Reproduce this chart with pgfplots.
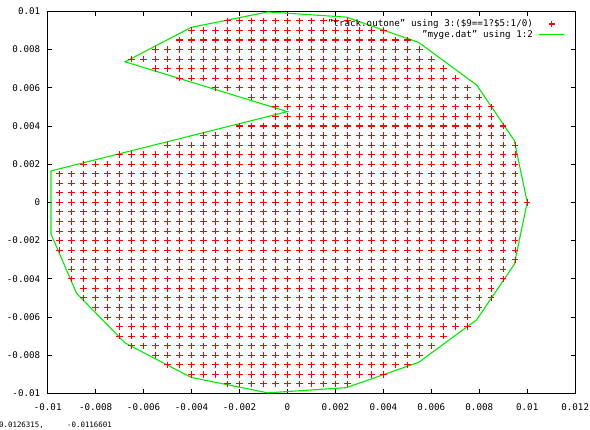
\documentclass[border=0pt]{standalone}
\usepackage{fontspec}
\setmainfont{DejaVu Sans Mono}
\usepackage{pgfplots}
\pgfplotsset{compat=1.18}
\definecolor{gpred}{RGB}{255,0,0}
\definecolor{gpgreen}{RGB}{0,235,0}
\begin{document}
\begin{tikzpicture}
\path[use as bounding box] (0pt,0pt) rectangle (590pt,430pt);
\begin{axis}[
  at={(47.7pt,36.5pt)}, anchor=south west,
  scale only axis, width=527.5pt, height=382.2pt,
  xmin=-0.01, xmax=0.012, ymin=-0.01, ymax=0.01,
  xtick={-0.01,-0.008,-0.006,-0.004,-0.002,0,0.002,0.004,0.006,0.008,0.01,0.012},
  xticklabels={-0.01,-0.008,-0.006,-0.004,-0.002,0,0.002,0.004,0.006,0.008,0.01,0.012},
  ytick={-0.01,-0.008,-0.006,-0.004,-0.002,0,0.002,0.004,0.006,0.008,0.01},
  yticklabels={-0.01,-0.008,-0.006,-0.004,-0.002,0,0.002,0.004,0.006,0.008,0.01},
  scaled ticks=false,
  tick align=inside, xtick pos=both, ytick pos=both,
  major tick length=4.5pt,
  tick style={black, line width=0.8pt},
  axis line style={black, line width=1.4pt},
  ticklabel style={font=\fontsize{9.2}{11}\selectfont},
  xticklabel style={yshift=-6.5pt},
  yticklabel style={xshift=-4pt},
  legend style={draw=none, fill=none, at={(rel axis cs:1,1)}, xshift=-7pt, yshift=-6pt, anchor=north east,
    font=\fontsize{9.2}{11}\selectfont, nodes={inner sep=0pt, text height=7pt, text depth=2pt}, row sep=1.6pt, column sep=6pt},
  legend cell align=right,
  legend plot pos=right,
  legend image code/.code={\draw[mark repeat=2,mark phase=2,#1] plot coordinates {(0pt,0pt) (12.5pt,0pt) (25pt,0pt)};},
]
\addplot[only marks, mark=+, mark size=3.2pt, gpred, mark options={line width=1.1pt}] coordinates {
(-0.0025,0.0095) (-0.002,0.0095) (-0.0015,0.0095) (-0.001,0.0095) (-0.0005,0.0095) (0,0.0095) (0.0005,0.0095) (0.001,0.0095) (0.0015,0.0095) (0.002,0.0095) (0.0025,0.0095)
(-0.004,0.009) (-0.0035,0.009) (-0.003,0.009) (-0.0025,0.009) (-0.002,0.009) (-0.0015,0.009) (-0.001,0.009) (-0.0005,0.009) (0,0.009) (0.0005,0.009) (0.001,0.009) (0.0015,0.009) (0.002,0.009) (0.0025,0.009) (0.003,0.009) (0.0035,0.009) (0.004,0.009)
(-0.0045,0.0085) (-0.004,0.0085) (-0.0035,0.0085) (-0.003,0.0085) (-0.0025,0.0085) (-0.002,0.0085) (-0.0015,0.0085) (-0.001,0.0085) (-0.0005,0.0085) (0,0.0085) (0.0005,0.0085) (0.001,0.0085) (0.0015,0.0085) (0.002,0.0085) (0.0025,0.0085) (0.003,0.0085) (0.0035,0.0085) (0.004,0.0085) (0.0045,0.0085) (0.005,0.0085)
(-0.0055,0.008) (-0.005,0.008) (-0.0045,0.008) (-0.004,0.008) (-0.0035,0.008) (-0.003,0.008) (-0.0025,0.008) (-0.002,0.008) (-0.0015,0.008) (-0.001,0.008) (-0.0005,0.008) (0,0.008) (0.0005,0.008) (0.001,0.008) (0.0015,0.008) (0.002,0.008) (0.0025,0.008) (0.003,0.008) (0.0035,0.008) (0.004,0.008) (0.0045,0.008) (0.005,0.008) (0.0055,0.008)
(-0.0065,0.0075) (-0.006,0.0075) (-0.0055,0.0075) (-0.005,0.0075) (-0.0045,0.0075) (-0.004,0.0075) (-0.0035,0.0075) (-0.003,0.0075) (-0.0025,0.0075) (-0.002,0.0075) (-0.0015,0.0075) (-0.001,0.0075) (-0.0005,0.0075) (0,0.0075) (0.0005,0.0075) (0.001,0.0075) (0.0015,0.0075) (0.002,0.0075) (0.0025,0.0075) (0.003,0.0075) (0.0035,0.0075) (0.004,0.0075) (0.0045,0.0075) (0.005,0.0075) (0.0055,0.0075) (0.006,0.0075)
(-0.0055,0.007) (-0.005,0.007) (-0.0045,0.007) (-0.004,0.007) (-0.0035,0.007) (-0.003,0.007) (-0.0025,0.007) (-0.002,0.007) (-0.0015,0.007) (-0.001,0.007) (-0.0005,0.007) (0,0.007) (0.0005,0.007) (0.001,0.007) (0.0015,0.007) (0.002,0.007) (0.0025,0.007) (0.003,0.007) (0.0035,0.007) (0.004,0.007) (0.0045,0.007) (0.005,0.007) (0.0055,0.007) (0.006,0.007) (0.0065,0.007)
(-0.0045,0.0065) (-0.004,0.0065) (-0.0035,0.0065) (-0.003,0.0065) (-0.0025,0.0065) (-0.002,0.0065) (-0.0015,0.0065) (-0.001,0.0065) (-0.0005,0.0065) (0,0.0065) (0.0005,0.0065) (0.001,0.0065) (0.0015,0.0065) (0.002,0.0065) (0.0025,0.0065) (0.003,0.0065) (0.0035,0.0065) (0.004,0.0065) (0.0045,0.0065) (0.005,0.0065) (0.0055,0.0065) (0.006,0.0065) (0.0065,0.0065) (0.007,0.0065)
(-0.003,0.006) (-0.0025,0.006) (-0.002,0.006) (-0.0015,0.006) (-0.001,0.006) (-0.0005,0.006) (0,0.006) (0.0005,0.006) (0.001,0.006) (0.0015,0.006) (0.002,0.006) (0.0025,0.006) (0.003,0.006) (0.0035,0.006) (0.004,0.006) (0.0045,0.006) (0.005,0.006) (0.0055,0.006) (0.006,0.006) (0.0065,0.006) (0.007,0.006) (0.0075,0.006)
(-0.0015,0.0055) (-0.001,0.0055) (-0.0005,0.0055) (0,0.0055) (0.0005,0.0055) (0.001,0.0055) (0.0015,0.0055) (0.002,0.0055) (0.0025,0.0055) (0.003,0.0055) (0.0035,0.0055) (0.004,0.0055) (0.0045,0.0055) (0.005,0.0055) (0.0055,0.0055) (0.006,0.0055) (0.0065,0.0055) (0.007,0.0055) (0.0075,0.0055) (0.008,0.0055)
(-0.0005,0.005) (0,0.005) (0.0005,0.005) (0.001,0.005) (0.0015,0.005) (0.002,0.005) (0.0025,0.005) (0.003,0.005) (0.0035,0.005) (0.004,0.005) (0.0045,0.005) (0.005,0.005) (0.0055,0.005) (0.006,0.005) (0.0065,0.005) (0.007,0.005) (0.0075,0.005) (0.008,0.005) (0.0085,0.005)
(-0.0005,0.0045) (0,0.0045) (0.0005,0.0045) (0.001,0.0045) (0.0015,0.0045) (0.002,0.0045) (0.0025,0.0045) (0.003,0.0045) (0.0035,0.0045) (0.004,0.0045) (0.0045,0.0045) (0.005,0.0045) (0.0055,0.0045) (0.006,0.0045) (0.0065,0.0045) (0.007,0.0045) (0.0075,0.0045) (0.008,0.0045) (0.0085,0.0045)
(-0.002,0.004) (-0.0015,0.004) (-0.001,0.004) (-0.0005,0.004) (0,0.004) (0.0005,0.004) (0.001,0.004) (0.0015,0.004) (0.002,0.004) (0.0025,0.004) (0.003,0.004) (0.0035,0.004) (0.004,0.004) (0.0045,0.004) (0.005,0.004) (0.0055,0.004) (0.006,0.004) (0.0065,0.004) (0.007,0.004) (0.0075,0.004) (0.008,0.004) (0.0085,0.004) (0.009,0.004)
(-0.0035,0.0035) (-0.003,0.0035) (-0.0025,0.0035) (-0.002,0.0035) (-0.0015,0.0035) (-0.001,0.0035) (-0.0005,0.0035) (0,0.0035) (0.0005,0.0035) (0.001,0.0035) (0.0015,0.0035) (0.002,0.0035) (0.0025,0.0035) (0.003,0.0035) (0.0035,0.0035) (0.004,0.0035) (0.0045,0.0035) (0.005,0.0035) (0.0055,0.0035) (0.006,0.0035) (0.0065,0.0035) (0.007,0.0035) (0.0075,0.0035) (0.008,0.0035) (0.0085,0.0035) (0.009,0.0035)
(-0.005,0.003) (-0.0045,0.003) (-0.004,0.003) (-0.0035,0.003) (-0.003,0.003) (-0.0025,0.003) (-0.002,0.003) (-0.0015,0.003) (-0.001,0.003) (-0.0005,0.003) (0,0.003) (0.0005,0.003) (0.001,0.003) (0.0015,0.003) (0.002,0.003) (0.0025,0.003) (0.003,0.003) (0.0035,0.003) (0.004,0.003) (0.0045,0.003) (0.005,0.003) (0.0055,0.003) (0.006,0.003) (0.0065,0.003) (0.007,0.003) (0.0075,0.003) (0.008,0.003) (0.0085,0.003) (0.009,0.003) (0.0095,0.003)
(-0.007,0.0025) (-0.0065,0.0025) (-0.006,0.0025) (-0.0055,0.0025) (-0.005,0.0025) (-0.0045,0.0025) (-0.004,0.0025) (-0.0035,0.0025) (-0.003,0.0025) (-0.0025,0.0025) (-0.002,0.0025) (-0.0015,0.0025) (-0.001,0.0025) (-0.0005,0.0025) (0,0.0025) (0.0005,0.0025) (0.001,0.0025) (0.0015,0.0025) (0.002,0.0025) (0.0025,0.0025) (0.003,0.0025) (0.0035,0.0025) (0.004,0.0025) (0.0045,0.0025) (0.005,0.0025) (0.0055,0.0025) (0.006,0.0025) (0.0065,0.0025) (0.007,0.0025) (0.0075,0.0025) (0.008,0.0025) (0.0085,0.0025) (0.009,0.0025) (0.0095,0.0025)
(-0.0085,0.002) (-0.008,0.002) (-0.0075,0.002) (-0.007,0.002) (-0.0065,0.002) (-0.006,0.002) (-0.0055,0.002) (-0.005,0.002) (-0.0045,0.002) (-0.004,0.002) (-0.0035,0.002) (-0.003,0.002) (-0.0025,0.002) (-0.002,0.002) (-0.0015,0.002) (-0.001,0.002) (-0.0005,0.002) (0,0.002) (0.0005,0.002) (0.001,0.002) (0.0015,0.002) (0.002,0.002) (0.0025,0.002) (0.003,0.002) (0.0035,0.002) (0.004,0.002) (0.0045,0.002) (0.005,0.002) (0.0055,0.002) (0.006,0.002) (0.0065,0.002) (0.007,0.002) (0.0075,0.002) (0.008,0.002) (0.0085,0.002) (0.009,0.002) (0.0095,0.002)
(-0.0095,0.0015) (-0.009,0.0015) (-0.0085,0.0015) (-0.008,0.0015) (-0.0075,0.0015) (-0.007,0.0015) (-0.0065,0.0015) (-0.006,0.0015) (-0.0055,0.0015) (-0.005,0.0015) (-0.0045,0.0015) (-0.004,0.0015) (-0.0035,0.0015) (-0.003,0.0015) (-0.0025,0.0015) (-0.002,0.0015) (-0.0015,0.0015) (-0.001,0.0015) (-0.0005,0.0015) (0,0.0015) (0.0005,0.0015) (0.001,0.0015) (0.0015,0.0015) (0.002,0.0015) (0.0025,0.0015) (0.003,0.0015) (0.0035,0.0015) (0.004,0.0015) (0.0045,0.0015) (0.005,0.0015) (0.0055,0.0015) (0.006,0.0015) (0.0065,0.0015) (0.007,0.0015) (0.0075,0.0015) (0.008,0.0015) (0.0085,0.0015) (0.009,0.0015) (0.0095,0.0015)
(-0.0095,0.001) (-0.009,0.001) (-0.0085,0.001) (-0.008,0.001) (-0.0075,0.001) (-0.007,0.001) (-0.0065,0.001) (-0.006,0.001) (-0.0055,0.001) (-0.005,0.001) (-0.0045,0.001) (-0.004,0.001) (-0.0035,0.001) (-0.003,0.001) (-0.0025,0.001) (-0.002,0.001) (-0.0015,0.001) (-0.001,0.001) (-0.0005,0.001) (0,0.001) (0.0005,0.001) (0.001,0.001) (0.0015,0.001) (0.002,0.001) (0.0025,0.001) (0.003,0.001) (0.0035,0.001) (0.004,0.001) (0.0045,0.001) (0.005,0.001) (0.0055,0.001) (0.006,0.001) (0.0065,0.001) (0.007,0.001) (0.0075,0.001) (0.008,0.001) (0.0085,0.001) (0.009,0.001) (0.0095,0.001)
(-0.0095,0.0005) (-0.009,0.0005) (-0.0085,0.0005) (-0.008,0.0005) (-0.0075,0.0005) (-0.007,0.0005) (-0.0065,0.0005) (-0.006,0.0005) (-0.0055,0.0005) (-0.005,0.0005) (-0.0045,0.0005) (-0.004,0.0005) (-0.0035,0.0005) (-0.003,0.0005) (-0.0025,0.0005) (-0.002,0.0005) (-0.0015,0.0005) (-0.001,0.0005) (-0.0005,0.0005) (0,0.0005) (0.0005,0.0005) (0.001,0.0005) (0.0015,0.0005) (0.002,0.0005) (0.0025,0.0005) (0.003,0.0005) (0.0035,0.0005) (0.004,0.0005) (0.0045,0.0005) (0.005,0.0005) (0.0055,0.0005) (0.006,0.0005) (0.0065,0.0005) (0.007,0.0005) (0.0075,0.0005) (0.008,0.0005) (0.0085,0.0005) (0.009,0.0005) (0.0095,0.0005)
(-0.0095,0) (-0.009,0) (-0.0085,0) (-0.008,0) (-0.0075,0) (-0.007,0) (-0.0065,0) (-0.006,0) (-0.0055,0) (-0.005,0) (-0.0045,0) (-0.004,0) (-0.0035,0) (-0.003,0) (-0.0025,0) (-0.002,0) (-0.0015,0) (-0.001,0) (-0.0005,0) (0,0) (0.0005,0) (0.001,0) (0.0015,0) (0.002,0) (0.0025,0) (0.003,0) (0.0035,0) (0.004,0) (0.0045,0) (0.005,0) (0.0055,0) (0.006,0) (0.0065,0) (0.007,0) (0.0075,0) (0.008,0) (0.0085,0) (0.009,0) (0.0095,0) (0.01,0)
(-0.0095,-0.0005) (-0.009,-0.0005) (-0.0085,-0.0005) (-0.008,-0.0005) (-0.0075,-0.0005) (-0.007,-0.0005) (-0.0065,-0.0005) (-0.006,-0.0005) (-0.0055,-0.0005) (-0.005,-0.0005) (-0.0045,-0.0005) (-0.004,-0.0005) (-0.0035,-0.0005) (-0.003,-0.0005) (-0.0025,-0.0005) (-0.002,-0.0005) (-0.0015,-0.0005) (-0.001,-0.0005) (-0.0005,-0.0005) (0,-0.0005) (0.0005,-0.0005) (0.001,-0.0005) (0.0015,-0.0005) (0.002,-0.0005) (0.0025,-0.0005) (0.003,-0.0005) (0.0035,-0.0005) (0.004,-0.0005) (0.0045,-0.0005) (0.005,-0.0005) (0.0055,-0.0005) (0.006,-0.0005) (0.0065,-0.0005) (0.007,-0.0005) (0.0075,-0.0005) (0.008,-0.0005) (0.0085,-0.0005) (0.009,-0.0005) (0.0095,-0.0005)
(-0.0095,-0.001) (-0.009,-0.001) (-0.0085,-0.001) (-0.008,-0.001) (-0.0075,-0.001) (-0.007,-0.001) (-0.0065,-0.001) (-0.006,-0.001) (-0.0055,-0.001) (-0.005,-0.001) (-0.0045,-0.001) (-0.004,-0.001) (-0.0035,-0.001) (-0.003,-0.001) (-0.0025,-0.001) (-0.002,-0.001) (-0.0015,-0.001) (-0.001,-0.001) (-0.0005,-0.001) (0,-0.001) (0.0005,-0.001) (0.001,-0.001) (0.0015,-0.001) (0.002,-0.001) (0.0025,-0.001) (0.003,-0.001) (0.0035,-0.001) (0.004,-0.001) (0.0045,-0.001) (0.005,-0.001) (0.0055,-0.001) (0.006,-0.001) (0.0065,-0.001) (0.007,-0.001) (0.0075,-0.001) (0.008,-0.001) (0.0085,-0.001) (0.009,-0.001) (0.0095,-0.001)
(-0.0095,-0.0015) (-0.009,-0.0015) (-0.0085,-0.0015) (-0.008,-0.0015) (-0.0075,-0.0015) (-0.007,-0.0015) (-0.0065,-0.0015) (-0.006,-0.0015) (-0.0055,-0.0015) (-0.005,-0.0015) (-0.0045,-0.0015) (-0.004,-0.0015) (-0.0035,-0.0015) (-0.003,-0.0015) (-0.0025,-0.0015) (-0.002,-0.0015) (-0.0015,-0.0015) (-0.001,-0.0015) (-0.0005,-0.0015) (0,-0.0015) (0.0005,-0.0015) (0.001,-0.0015) (0.0015,-0.0015) (0.002,-0.0015) (0.0025,-0.0015) (0.003,-0.0015) (0.0035,-0.0015) (0.004,-0.0015) (0.0045,-0.0015) (0.005,-0.0015) (0.0055,-0.0015) (0.006,-0.0015) (0.0065,-0.0015) (0.007,-0.0015) (0.0075,-0.0015) (0.008,-0.0015) (0.0085,-0.0015) (0.009,-0.0015) (0.0095,-0.0015)
(-0.0095,-0.002) (-0.009,-0.002) (-0.0085,-0.002) (-0.008,-0.002) (-0.0075,-0.002) (-0.007,-0.002) (-0.0065,-0.002) (-0.006,-0.002) (-0.0055,-0.002) (-0.005,-0.002) (-0.0045,-0.002) (-0.004,-0.002) (-0.0035,-0.002) (-0.003,-0.002) (-0.0025,-0.002) (-0.002,-0.002) (-0.0015,-0.002) (-0.001,-0.002) (-0.0005,-0.002) (0,-0.002) (0.0005,-0.002) (0.001,-0.002) (0.0015,-0.002) (0.002,-0.002) (0.0025,-0.002) (0.003,-0.002) (0.0035,-0.002) (0.004,-0.002) (0.0045,-0.002) (0.005,-0.002) (0.0055,-0.002) (0.006,-0.002) (0.0065,-0.002) (0.007,-0.002) (0.0075,-0.002) (0.008,-0.002) (0.0085,-0.002) (0.009,-0.002) (0.0095,-0.002)
(-0.0095,-0.0025) (-0.009,-0.0025) (-0.0085,-0.0025) (-0.008,-0.0025) (-0.0075,-0.0025) (-0.007,-0.0025) (-0.0065,-0.0025) (-0.006,-0.0025) (-0.0055,-0.0025) (-0.005,-0.0025) (-0.0045,-0.0025) (-0.004,-0.0025) (-0.0035,-0.0025) (-0.003,-0.0025) (-0.0025,-0.0025) (-0.002,-0.0025) (-0.0015,-0.0025) (-0.001,-0.0025) (-0.0005,-0.0025) (0,-0.0025) (0.0005,-0.0025) (0.001,-0.0025) (0.0015,-0.0025) (0.002,-0.0025) (0.0025,-0.0025) (0.003,-0.0025) (0.0035,-0.0025) (0.004,-0.0025) (0.0045,-0.0025) (0.005,-0.0025) (0.0055,-0.0025) (0.006,-0.0025) (0.0065,-0.0025) (0.007,-0.0025) (0.0075,-0.0025) (0.008,-0.0025) (0.0085,-0.0025) (0.009,-0.0025) (0.0095,-0.0025)
(-0.009,-0.003) (-0.0085,-0.003) (-0.008,-0.003) (-0.0075,-0.003) (-0.007,-0.003) (-0.0065,-0.003) (-0.006,-0.003) (-0.0055,-0.003) (-0.005,-0.003) (-0.0045,-0.003) (-0.004,-0.003) (-0.0035,-0.003) (-0.003,-0.003) (-0.0025,-0.003) (-0.002,-0.003) (-0.0015,-0.003) (-0.001,-0.003) (-0.0005,-0.003) (0,-0.003) (0.0005,-0.003) (0.001,-0.003) (0.0015,-0.003) (0.002,-0.003) (0.0025,-0.003) (0.003,-0.003) (0.0035,-0.003) (0.004,-0.003) (0.0045,-0.003) (0.005,-0.003) (0.0055,-0.003) (0.006,-0.003) (0.0065,-0.003) (0.007,-0.003) (0.0075,-0.003) (0.008,-0.003) (0.0085,-0.003) (0.009,-0.003) (0.0095,-0.003)
(-0.009,-0.0035) (-0.0085,-0.0035) (-0.008,-0.0035) (-0.0075,-0.0035) (-0.007,-0.0035) (-0.0065,-0.0035) (-0.006,-0.0035) (-0.0055,-0.0035) (-0.005,-0.0035) (-0.0045,-0.0035) (-0.004,-0.0035) (-0.0035,-0.0035) (-0.003,-0.0035) (-0.0025,-0.0035) (-0.002,-0.0035) (-0.0015,-0.0035) (-0.001,-0.0035) (-0.0005,-0.0035) (0,-0.0035) (0.0005,-0.0035) (0.001,-0.0035) (0.0015,-0.0035) (0.002,-0.0035) (0.0025,-0.0035) (0.003,-0.0035) (0.0035,-0.0035) (0.004,-0.0035) (0.0045,-0.0035) (0.005,-0.0035) (0.0055,-0.0035) (0.006,-0.0035) (0.0065,-0.0035) (0.007,-0.0035) (0.0075,-0.0035) (0.008,-0.0035) (0.0085,-0.0035) (0.009,-0.0035)
(-0.009,-0.004) (-0.0085,-0.004) (-0.008,-0.004) (-0.0075,-0.004) (-0.007,-0.004) (-0.0065,-0.004) (-0.006,-0.004) (-0.0055,-0.004) (-0.005,-0.004) (-0.0045,-0.004) (-0.004,-0.004) (-0.0035,-0.004) (-0.003,-0.004) (-0.0025,-0.004) (-0.002,-0.004) (-0.0015,-0.004) (-0.001,-0.004) (-0.0005,-0.004) (0,-0.004) (0.0005,-0.004) (0.001,-0.004) (0.0015,-0.004) (0.002,-0.004) (0.0025,-0.004) (0.003,-0.004) (0.0035,-0.004) (0.004,-0.004) (0.0045,-0.004) (0.005,-0.004) (0.0055,-0.004) (0.006,-0.004) (0.0065,-0.004) (0.007,-0.004) (0.0075,-0.004) (0.008,-0.004) (0.0085,-0.004) (0.009,-0.004)
(-0.0085,-0.0045) (-0.008,-0.0045) (-0.0075,-0.0045) (-0.007,-0.0045) (-0.0065,-0.0045) (-0.006,-0.0045) (-0.0055,-0.0045) (-0.005,-0.0045) (-0.0045,-0.0045) (-0.004,-0.0045) (-0.0035,-0.0045) (-0.003,-0.0045) (-0.0025,-0.0045) (-0.002,-0.0045) (-0.0015,-0.0045) (-0.001,-0.0045) (-0.0005,-0.0045) (0,-0.0045) (0.0005,-0.0045) (0.001,-0.0045) (0.0015,-0.0045) (0.002,-0.0045) (0.0025,-0.0045) (0.003,-0.0045) (0.0035,-0.0045) (0.004,-0.0045) (0.0045,-0.0045) (0.005,-0.0045) (0.0055,-0.0045) (0.006,-0.0045) (0.0065,-0.0045) (0.007,-0.0045) (0.0075,-0.0045) (0.008,-0.0045) (0.0085,-0.0045)
(-0.0085,-0.005) (-0.008,-0.005) (-0.0075,-0.005) (-0.007,-0.005) (-0.0065,-0.005) (-0.006,-0.005) (-0.0055,-0.005) (-0.005,-0.005) (-0.0045,-0.005) (-0.004,-0.005) (-0.0035,-0.005) (-0.003,-0.005) (-0.0025,-0.005) (-0.002,-0.005) (-0.0015,-0.005) (-0.001,-0.005) (-0.0005,-0.005) (0,-0.005) (0.0005,-0.005) (0.001,-0.005) (0.0015,-0.005) (0.002,-0.005) (0.0025,-0.005) (0.003,-0.005) (0.0035,-0.005) (0.004,-0.005) (0.0045,-0.005) (0.005,-0.005) (0.0055,-0.005) (0.006,-0.005) (0.0065,-0.005) (0.007,-0.005) (0.0075,-0.005) (0.008,-0.005) (0.0085,-0.005)
(-0.008,-0.0055) (-0.0075,-0.0055) (-0.007,-0.0055) (-0.0065,-0.0055) (-0.006,-0.0055) (-0.0055,-0.0055) (-0.005,-0.0055) (-0.0045,-0.0055) (-0.004,-0.0055) (-0.0035,-0.0055) (-0.003,-0.0055) (-0.0025,-0.0055) (-0.002,-0.0055) (-0.0015,-0.0055) (-0.001,-0.0055) (-0.0005,-0.0055) (0,-0.0055) (0.0005,-0.0055) (0.001,-0.0055) (0.0015,-0.0055) (0.002,-0.0055) (0.0025,-0.0055) (0.003,-0.0055) (0.0035,-0.0055) (0.004,-0.0055) (0.0045,-0.0055) (0.005,-0.0055) (0.0055,-0.0055) (0.006,-0.0055) (0.0065,-0.0055) (0.007,-0.0055) (0.0075,-0.0055) (0.008,-0.0055)
(-0.0075,-0.006) (-0.007,-0.006) (-0.0065,-0.006) (-0.006,-0.006) (-0.0055,-0.006) (-0.005,-0.006) (-0.0045,-0.006) (-0.004,-0.006) (-0.0035,-0.006) (-0.003,-0.006) (-0.0025,-0.006) (-0.002,-0.006) (-0.0015,-0.006) (-0.001,-0.006) (-0.0005,-0.006) (0,-0.006) (0.0005,-0.006) (0.001,-0.006) (0.0015,-0.006) (0.002,-0.006) (0.0025,-0.006) (0.003,-0.006) (0.0035,-0.006) (0.004,-0.006) (0.0045,-0.006) (0.005,-0.006) (0.0055,-0.006) (0.006,-0.006) (0.0065,-0.006) (0.007,-0.006) (0.0075,-0.006)
(-0.007,-0.0065) (-0.0065,-0.0065) (-0.006,-0.0065) (-0.0055,-0.0065) (-0.005,-0.0065) (-0.0045,-0.0065) (-0.004,-0.0065) (-0.0035,-0.0065) (-0.003,-0.0065) (-0.0025,-0.0065) (-0.002,-0.0065) (-0.0015,-0.0065) (-0.001,-0.0065) (-0.0005,-0.0065) (0,-0.0065) (0.0005,-0.0065) (0.001,-0.0065) (0.0015,-0.0065) (0.002,-0.0065) (0.0025,-0.0065) (0.003,-0.0065) (0.0035,-0.0065) (0.004,-0.0065) (0.0045,-0.0065) (0.005,-0.0065) (0.0055,-0.0065) (0.006,-0.0065) (0.0065,-0.0065) (0.007,-0.0065) (0.0075,-0.0065)
(-0.007,-0.007) (-0.0065,-0.007) (-0.006,-0.007) (-0.0055,-0.007) (-0.005,-0.007) (-0.0045,-0.007) (-0.004,-0.007) (-0.0035,-0.007) (-0.003,-0.007) (-0.0025,-0.007) (-0.002,-0.007) (-0.0015,-0.007) (-0.001,-0.007) (-0.0005,-0.007) (0,-0.007) (0.0005,-0.007) (0.001,-0.007) (0.0015,-0.007) (0.002,-0.007) (0.0025,-0.007) (0.003,-0.007) (0.0035,-0.007) (0.004,-0.007) (0.0045,-0.007) (0.005,-0.007) (0.0055,-0.007) (0.006,-0.007) (0.0065,-0.007)
(-0.0065,-0.0075) (-0.006,-0.0075) (-0.0055,-0.0075) (-0.005,-0.0075) (-0.0045,-0.0075) (-0.004,-0.0075) (-0.0035,-0.0075) (-0.003,-0.0075) (-0.0025,-0.0075) (-0.002,-0.0075) (-0.0015,-0.0075) (-0.001,-0.0075) (-0.0005,-0.0075) (0,-0.0075) (0.0005,-0.0075) (0.001,-0.0075) (0.0015,-0.0075) (0.002,-0.0075) (0.0025,-0.0075) (0.003,-0.0075) (0.0035,-0.0075) (0.004,-0.0075) (0.0045,-0.0075) (0.005,-0.0075) (0.0055,-0.0075) (0.006,-0.0075)
(-0.0055,-0.008) (-0.005,-0.008) (-0.0045,-0.008) (-0.004,-0.008) (-0.0035,-0.008) (-0.003,-0.008) (-0.0025,-0.008) (-0.002,-0.008) (-0.0015,-0.008) (-0.001,-0.008) (-0.0005,-0.008) (0,-0.008) (0.0005,-0.008) (0.001,-0.008) (0.0015,-0.008) (0.002,-0.008) (0.0025,-0.008) (0.003,-0.008) (0.0035,-0.008) (0.004,-0.008) (0.0045,-0.008) (0.005,-0.008) (0.0055,-0.008)
(-0.005,-0.0085) (-0.0045,-0.0085) (-0.004,-0.0085) (-0.0035,-0.0085) (-0.003,-0.0085) (-0.0025,-0.0085) (-0.002,-0.0085) (-0.0015,-0.0085) (-0.001,-0.0085) (-0.0005,-0.0085) (0,-0.0085) (0.0005,-0.0085) (0.001,-0.0085) (0.0015,-0.0085) (0.002,-0.0085) (0.0025,-0.0085) (0.003,-0.0085) (0.0035,-0.0085) (0.004,-0.0085) (0.0045,-0.0085) (0.005,-0.0085)
(-0.004,-0.009) (-0.0035,-0.009) (-0.003,-0.009) (-0.0025,-0.009) (-0.002,-0.009) (-0.0015,-0.009) (-0.001,-0.009) (-0.0005,-0.009) (0,-0.009) (0.0005,-0.009) (0.001,-0.009) (0.0015,-0.009) (0.002,-0.009) (0.0025,-0.009) (0.003,-0.009) (0.0035,-0.009) (0.004,-0.009)
(-0.0025,-0.0095) (-0.002,-0.0095) (-0.0015,-0.0095) (-0.001,-0.0095) (-0.0005,-0.0095) (0,-0.0095) (0.0005,-0.0095) (0.001,-0.0095) (0.0015,-0.0095) (0.002,-0.0095) (0.0025,-0.0095)
};
\addlegendentry{"track.outone" using 3:(\$9==1?\$5:1/0)}
\addplot[gpgreen, line width=1.1pt, mark=none] coordinates {
(0.01,0) (0.009458,0.003247) (0.007891,0.006142) (0.005469,0.008372) (0.002455,0.009694)
(-0.000826,0.009966) (-0.004017,0.009158) (-0.006773,0.007357) (0,0.00475)
(-0.009864,0.001646) (-0.009864,-0.001646) (-0.008795,-0.004759) (-0.006773,-0.007357)
(-0.004017,-0.009158) (-0.000826,-0.009966) (0.002455,-0.009694) (0.005469,-0.008372)
(0.007891,-0.006142) (0.009458,-0.003247) (0.01,0)
};
\addlegendentry{"myge.dat" using 1:2}
\end{axis}
\node[anchor=base west, inner sep=0pt, font=\fontsize{7.4}{9}\selectfont] at (-1pt,2.2pt) {0.0126315,};
\node[anchor=base west, inner sep=0pt, font=\fontsize{7.4}{9}\selectfont] at (67pt,2.2pt) {-0.0116601};
\end{tikzpicture}
\end{document}
